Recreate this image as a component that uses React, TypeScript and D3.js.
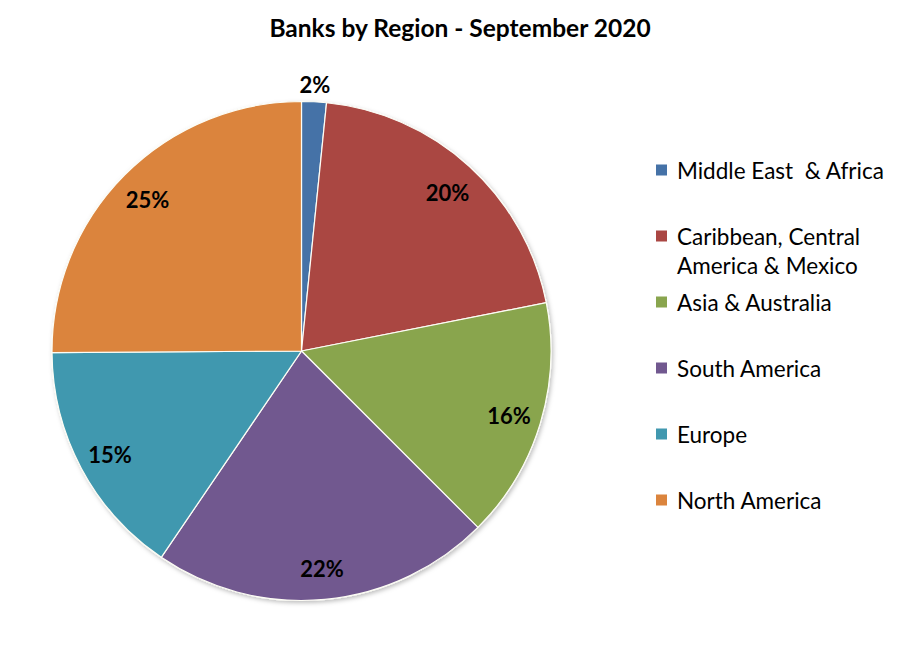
import React from "react";
import * as d3 from "d3";

const title = "Banks by Region - September 2020";
const categories = [
  "Middle East  & Africa",
  "Caribbean, Central America & Mexico",
  "Asia & Australia",
  "South America",
  "Europe",
  "North America",
];
const legendLines = [
  ["Middle East  & Africa"],
  ["Caribbean, Central", "America & Mexico"],
  ["Asia & Australia"],
  ["South America"],
  ["Europe"],
  ["North America"],
];
const values = [1.6, 20.3, 15.6, 22.0, 15.4, 25.1];
const colors = ["#4572A7", "#AA4643", "#89A54E", "#71588F", "#4198AF", "#DB843D"];

const W = 919;
const H = 657;
const cx = 301.5;
const cy = 351;
const R = 249.5;
const FONT = "Lato, 'Open Sans', sans-serif";

export default function App() {
  const total = d3.sum(values);
  const pie = d3
    .pie<number>()
    .sort(null)
    .value((d) => d)
    .startAngle(0)
    .endAngle(2 * Math.PI);
  const arcs = pie(values);
  const arc = d3.arc<d3.PieArcDatum<number>>().innerRadius(0).outerRadius(R);
  const pct = (v: number) => `${Math.round((v / total) * 100)}%`;

  return (
    <div style={{ position: "absolute", left: 0, top: 0, width: W, height: H, background: "#fff" }}>
      <svg width={W} height={H} style={{ display: "block" }}>
        <defs>
          <filter id="sh" x="-10%" y="-10%" width="120%" height="120%">
            <feDropShadow dx="1.5" dy="2" stdDeviation="2" floodColor="#000" floodOpacity="0.25" />
          </filter>
        </defs>
        <rect width={W} height={H} fill="#fff" />
        <text
          x={460}
          y={27}
          textAnchor="middle"
          dominantBaseline="central"
          fontFamily={FONT}
          fontWeight="bold"
          fontSize={24.5}
          fill="#000"
        >
          {title}
        </text>
        <g transform={`translate(${cx},${cy})`}>
          <g filter="url(#sh)">
            {arcs.map((a, i) => (
              <path key={i} d={arc(a) || ""} fill={colors[i]} stroke="#fdfdf5" strokeWidth={1.2} />
            ))}
          </g>
          {arcs.map((a, i) => {
            const share = a.value / total;
            const mid = (a.startAngle + a.endAngle) / 2;
            const r = share < 0.05 ? R + 19 : 217;
            const x = Math.sin(mid) * r;
            const y = -Math.cos(mid) * r + 1.5;
            return (
              <text
                key={i}
                x={x}
                y={y}
                textAnchor="middle"
                dominantBaseline="central"
                fontFamily={FONT}
                fontWeight="bold"
                fontSize={22}
                fill="#000"
              >
                {pct(a.value)}
              </text>
            );
          })}
        </g>
        <g>
          {categories.map((c, i) => {
            const y0 = 170 + i * 66;
            return (
              <g key={c}>
                <rect x={656} y={y0 - 5.5} width={11} height={11} fill={colors[i]} />
                {legendLines[i].map((line, j) => (
                  <text
                    key={j}
                    x={677}
                    y={y0 + j * 29}
                    dominantBaseline="central"
                    fontFamily={FONT}
                    fontSize={22.5}
                    fill="#000"
                    style={{ whiteSpace: "pre" }}
                  >
                    {line}
                  </text>
                ))}
              </g>
            );
          })}
        </g>
      </svg>
    </div>
  );
}
